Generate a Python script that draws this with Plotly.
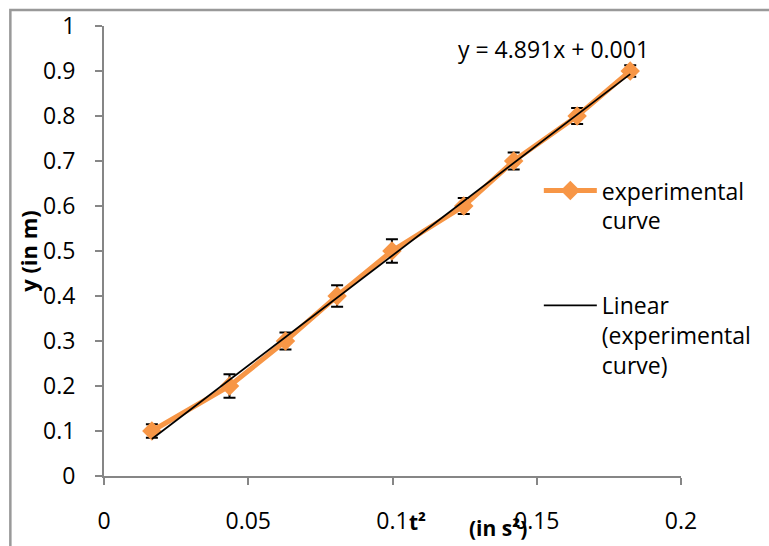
import plotly.graph_objects as go

# Data
t_sq = [0.0166, 0.0435, 0.0629, 0.0808, 0.0998, 0.1247, 0.1420, 0.1640, 0.1824]
y_m = [0.1, 0.2, 0.3, 0.4, 0.5, 0.6, 0.7, 0.8, 0.9]
y_err = [0.015, 0.026, 0.019, 0.024, 0.026, 0.018, 0.019, 0.018, 0.013]
slope = 4.891
intercept = 0.001
x_ticks = [0, 0.05, 0.1, 0.15, 0.2]
x_tick_labels = ["0", "0.05", "0.1", "0.15", "0.2"]
y_ticks = [0, 0.1, 0.2, 0.3, 0.4, 0.5, 0.6, 0.7, 0.8, 0.9, 1]
y_tick_labels = ["0", "0.1", "0.2", "0.3", "0.4", "0.5", "0.6", "0.7", "0.8", "0.9", "1"]

trend_x = [min(t_sq), max(t_sq)]
trend_y = [slope * v + intercept for v in trend_x]

ORANGE = "#F79646"
AXIS = "#868686"
FONT = "Open Sans"

fig = go.Figure()
fig.add_trace(go.Scatter(
    x=t_sq, y=y_m, mode="lines+markers",
    name="experimental<br>curve", legendgroup="a",
    line=dict(color=ORANGE, width=5),
    marker=dict(symbol="diamond", size=15, color=ORANGE),
    error_y=dict(type="data", array=y_err, visible=True, color="black",
                 thickness=2, width=6),
))
fig.add_trace(go.Scatter(
    x=trend_x, y=trend_y, mode="lines",
    name="Linear<br>(experimental<br>curve)", legendgroup="b",
    line=dict(color="black", width=1.8),
))

fig.update_layout(
    width=769, height=546, autosize=False,
    margin=dict(l=104, r=86, t=26, b=70),
    paper_bgcolor="white", plot_bgcolor="white",
    font=dict(family=FONT, size=22, color="black"),
    showlegend=True,
    legend=dict(x=0.7536, y=0.682, xanchor="left", yanchor="top",
                valign="top", tracegroupgap=52, itemwidth=53,
                font=dict(family=FONT, size=23, color="black"),
                bgcolor="rgba(0,0,0,0)"),
    xaxis=dict(range=[0, 0.2], tickvals=x_ticks, ticktext=x_tick_labels,
               automargin=False,
               showgrid=False, zeroline=False, showline=True,
               linecolor=AXIS, linewidth=2, ticks="outside", ticklen=7,
               tickcolor=AXIS, tickwidth=2, ticklabelstandoff=16,
               tickfont=dict(family=FONT, size=23)),
    yaxis=dict(range=[0, 1], tickvals=y_ticks, ticktext=y_tick_labels,
               automargin=False,
               showgrid=False, zeroline=False, showline=True,
               linecolor=AXIS, linewidth=2, ticks="outside", ticklen=7,
               tickcolor=AXIS, tickwidth=2, ticklabelstandoff=15,
               tickfont=dict(family=FONT, size=23)),
)

# y axis title
fig.add_annotation(text="<b>y (in m)</b>", xref="paper", yref="paper",
                   x=-0.132, y=0.5, textangle=-90, showarrow=False,
                   xanchor="center", yanchor="middle",
                   font=dict(family=FONT, size=22))
# x axis title parts
fig.add_annotation(text="<b>t²</b>", xref="paper", yref="paper",
                   x=0.543, y=-0.102, showarrow=False, xanchor="center", yanchor="middle",
                   font=dict(family=FONT, size=21))
fig.add_annotation(text="<b>(in s²)</b>", xref="paper", yref="paper",
                   x=0.683, y=-0.115, showarrow=False, xanchor="center", yanchor="middle",
                   font=dict(family=FONT, size=21))
# trendline equation
fig.add_annotation(text=f"y = {slope}x + {intercept}", x=0.1558, y=0.949,
                   xref="x", yref="y", showarrow=False,
                   font=dict(family=FONT, size=23))

# chart outer border
fig.add_shape(type="rect", xref="paper", yref="paper",
              x0=-0.1623, x1=1.2, y0=-0.2, y1=1.0356,
              line=dict(color="#999999", width=2.5), fillcolor="rgba(0,0,0,0)",
              layer="below")

fig.write_html(
    "out.html",
    config={"displayModeBar": False},
    post_script="document.body.style.margin='0';document.body.style.overflow='hidden';",
)
